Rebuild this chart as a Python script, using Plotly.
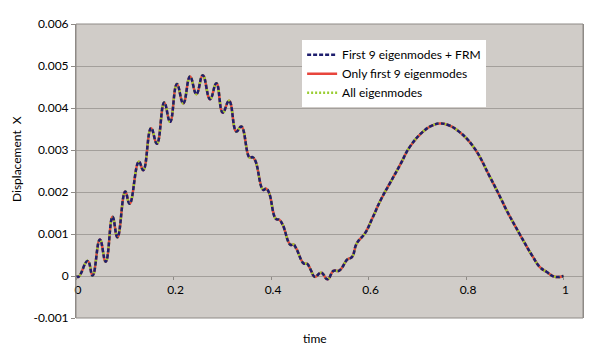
import plotly.graph_objects as go

# time samples
time = [0.000, 0.005, 0.024, 0.034, 0.049, 0.061, 0.075, 0.085, 0.101, 0.110,
        0.129, 0.138, 0.154, 0.166, 0.181, 0.193, 0.207, 0.220, 0.234, 0.247,
        0.260, 0.275, 0.288, 0.301, 0.314, 0.329, 0.339, 0.356, 0.362, 0.368,
        0.384, 0.390, 0.396, 0.410, 0.417, 0.424, 0.440, 0.446, 0.452, 0.467,
        0.474, 0.481, 0.490, 0.503, 0.516, 0.528, 0.540, 0.557, 0.566, 0.576,
        0.593, 0.607, 0.625, 0.644, 0.665, 0.685, 0.712, 0.730, 0.746, 0.762,
        0.781, 0.815, 0.849, 0.873, 0.883, 0.910, 0.937, 0.951, 0.965, 0.982,
        1.000]

# displacement X (the three series overlap almost exactly)
disp_frm = [0.00000, -0.00002, 0.00036, 0.00001, 0.00087, 0.00034, 0.00141, 0.00092, 0.00201, 0.00172,
            0.00272, 0.00252, 0.00352, 0.00315, 0.00413, 0.00367, 0.00457, 0.00411, 0.00475, 0.00433,
            0.00478, 0.00421, 0.00459, 0.00389, 0.00417, 0.00344, 0.00356, 0.00282, 0.00283, 0.00274,
            0.00205, 0.00208, 0.00198, 0.00136, 0.00134, 0.00122, 0.00074, 0.00075, 0.00065, 0.00030,
            0.00029, 0.00016, -0.00002, 0.00008, -0.00008, 0.00012, 0.00013, 0.00040, 0.00045, 0.00078,
            0.00102, 0.00135, 0.00181, 0.00221, 0.00265, 0.00308, 0.00344, 0.00358, 0.00363, 0.00360,
            0.00348, 0.00308, 0.00236, 0.00181, 0.00157, 0.00100, 0.00046, 0.00022, 0.00010, -0.00002,
            0.00000]
disp_first9 = list(disp_frm)
disp_all = list(disp_frm)

x_ticks = [0, 0.2, 0.4, 0.6, 0.8, 1]
x_tick_text = ["0", "0.2", "0.4", "0.6", "0.8", "1"]
y_ticks = [-0.001, 0, 0.001, 0.002, 0.003, 0.004, 0.005, 0.006]
y_tick_text = ["-0.001", "0", "0.001", "0.002", "0.003", "0.004", "0.005", "0.006"]

FONT = "Lato, 'Open Sans', sans-serif"
GRID = "#A39F9B"
AXIS = "#8E8A86"

fig = go.Figure()
fig.add_trace(go.Scatter(x=time, y=disp_first9, mode="lines", name="Only first 9 eigenmodes",
                         line=dict(color="#E8453C", width=2.5, shape="spline", smoothing=1.3),
                         legendrank=2))
fig.add_trace(go.Scatter(x=time, y=disp_all, mode="lines", name="All eigenmodes",
                         line=dict(color="#9ACD32", width=2.5, dash="2px,2px", shape="spline", smoothing=1.3),
                         legendrank=3))
fig.add_trace(go.Scatter(x=time, y=disp_frm, mode="lines", name="First 9 eigenmodes + FRM",
                         line=dict(color="#1E1E6E", width=2.5, dash="4px,2px", shape="spline", smoothing=1.3),
                         legendrank=1))

fig.update_layout(
    width=600, height=357,
    margin=dict(l=76, r=17, t=24, b=39, autoexpand=False),
    paper_bgcolor="white",
    plot_bgcolor="#D0CCC8",
    font=dict(family=FONT, size=12, color="black"),
    showlegend=True,
    legend=dict(x=0.446, y=0.945, xanchor="left", yanchor="top",
                bgcolor="white", borderwidth=0, tracegroupgap=0,
                font=dict(family=FONT, size=12, color="black")),
    xaxis=dict(range=[0, 1.04], tickvals=x_ticks, ticktext=x_tick_text,
               showgrid=False, zeroline=False, showline=False, automargin=False,
               anchor="free", position=1/7,
               ticks="outside", ticklen=3, tickcolor=AXIS,
               tickfont=dict(family=FONT, size=12, color="black"),
               ticklabelshift=2),
    yaxis=dict(range=[-0.001, 0.006], tickvals=y_ticks, ticktext=y_tick_text,
               showgrid=True, gridcolor=GRID, gridwidth=1, zeroline=False,
               showline=True, linecolor=AXIS, mirror=True, automargin=False,
               ticks="outside", ticklen=4, tickcolor=AXIS,
               tickfont=dict(family=FONT, size=12, color="black")),
    shapes=[dict(type="rect", xref="paper", yref="paper", x0=0, y0=0, x1=1, y1=1,
                 line=dict(color=AXIS, width=1), layer="above")],
    annotations=[
        dict(text="time", xref="paper", yref="paper", x=0.472, y=0,
             yshift=-20, xanchor="center", yanchor="middle", showarrow=False,
             font=dict(family=FONT, size=12, color="black")),
        dict(text="Displacement\u00a0\u00a0X", xref="paper", yref="paper", x=0, y=0.5,
             xshift=-60, yshift=12, xanchor="center", yanchor="middle", textangle=-90,
             showarrow=False, font=dict(family=FONT, size=12, color="black")),
    ],
)

fig.write_html("out.html", config={"displayModeBar": False},
               post_script="document.body.style.margin='0';document.body.style.padding='0';")
